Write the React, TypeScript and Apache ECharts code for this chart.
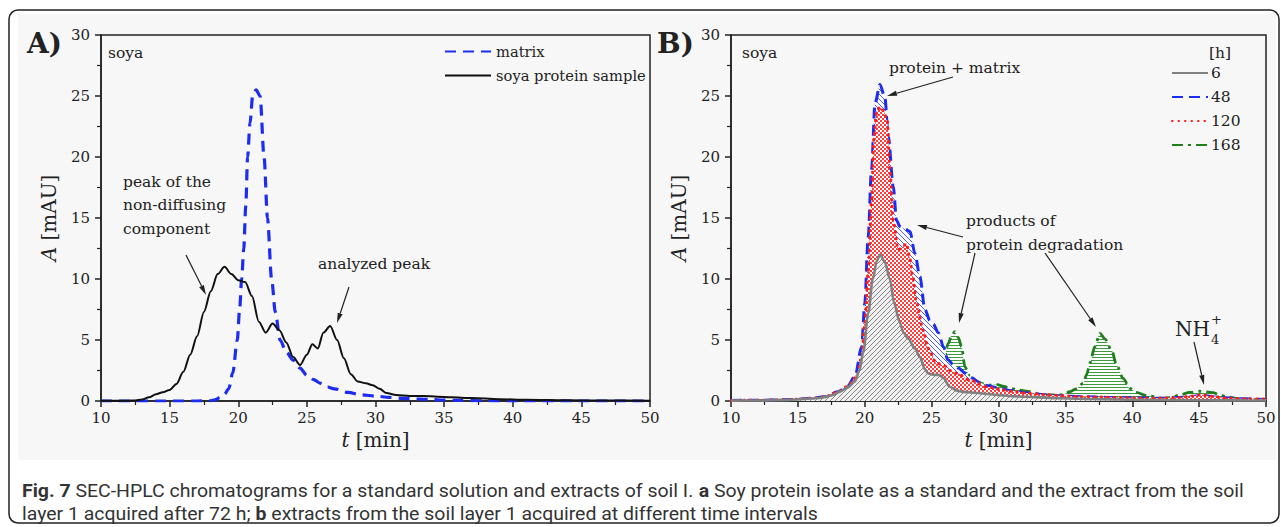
import React, { useEffect, useRef } from "react";
import * as echarts from "echarts";

const SERIF = "'DejaVu Serif', 'Liberation Serif', serif";
const SANS = "Roboto, 'Liberation Sans', sans-serif";
const INK = "#222";

// ---------- Panel A data ----------
const sampleT = [10,12,12.5,13,13.5,14,14.5,15,15.5,16,16.5,17,17.5,18,18.5,19,19.5,20,20.5,21,21.5,22,22.5,23,23.5,24,24.5,25,25.4,25.8,26.2,26.7,27.2,27.7,28.2,28.7,29.3,29.8,30.3,30.8,31.5,32.5,33.5,34.5,35.5,37,39,41,44,47,50];
const sampleA = [0.02,0.03,0.05,0.12,0.3,0.55,0.72,0.9,1.4,2.4,3.8,5.3,7.3,9.0,10.4,11.0,10.4,9.9,9.75,8.6,6.5,5.6,6.35,5.8,4.8,3.6,2.95,3.8,4.65,4.3,5.6,6.15,5.0,3.5,2.2,1.6,1.45,1.3,1.0,0.65,0.5,0.42,0.42,0.35,0.3,0.25,0.15,0.1,0.06,0.04,0.03];

const matrixT = [10,14,17,18,18.3,18.7,19,19.3,19.6,19.93,20.1,20.25,20.4,20.55,20.68,20.86,21.05,21.3,21.59,21.88,22.13,22.43,22.7,23.05,23.5,24,24.5,25,25.5,26,26.5,27,28,29,30,31,32,33,34,35,36,38,40,45,50];
const matrixA = [0,0,0,0.02,0.1,0.3,0.55,1.0,2.3,5.0,7.5,10,12.5,16,20,22.8,25.0,25.5,25.0,20,15,10,7.3,5.0,4.0,3.35,2.7,2.1,1.75,1.45,1.15,1.0,0.7,0.5,0.4,0.3,0.22,0.17,0.12,0.08,0.05,0.02,0.01,0,0];

// ---------- Panel B data ----------
const h6T = [10,12,14,15,16,16.65,17,17.5,18.15,18.7,19.27,19.6,19.89,20.26,20.6,20.9,21.14,21.5,21.88,22.2,22.6,22.9,23.25,23.75,24.12,24.5,24.75,25.2,25.6,25.85,26.37,26.9,27.36,28,29,29.86,31,32,33,34.8,36,38,40,42,45,48,50];
const h6A = [0.03,0.04,0.08,0.12,0.2,0.25,0.32,0.45,0.77,1.1,1.6,2.5,4.0,7.2,10.0,11.5,12.0,11.4,10.0,8.0,6.5,5.6,5.1,4.3,3.6,2.6,2.25,2.15,2.13,1.9,1.17,0.85,0.75,0.7,0.6,0.5,0.4,0.35,0.3,0.22,0.18,0.14,0.1,0.08,0.06,0.05,0.04];

const h48T = [10,12,14,15,16,17,18,18.7,19.27,19.77,20.0,20.26,20.5,20.77,21.14,21.5,21.76,22.13,22.38,22.63,23.0,23.38,23.75,24.12,24.5,24.87,25.12,25.5,25.9,26.2,26.6,27,27.5,28,28.6,29.2,30,31,32,33,34,35,36.5,38,40,42,44,45.2,46.5,48,50];
const h48A = [0.05,0.06,0.1,0.14,0.22,0.35,0.75,1.2,2.0,4.45,8.0,13.5,18.9,24.4,25.95,24.9,21.7,17.6,14.8,14.3,14.1,13.9,12.1,10.2,7.5,6.6,6.3,5.6,4.4,3.4,3.0,2.7,2.3,1.9,1.5,1.25,1.05,0.85,0.68,0.55,0.45,0.4,0.34,0.3,0.26,0.22,0.3,0.45,0.3,0.18,0.12];

const h120T = [10,12,14,15,16,17,18,18.7,19.4,19.77,20.0,20.26,20.5,20.69,20.9,21.14,21.4,21.68,21.88,22.13,22.5,22.8,23.13,23.35,23.6,23.88,24.37,24.75,25.37,25.87,26.4,26.87,27.86,29.1,30.35,31.3,32.35,33.5,34.84,36.08,37.5,39,40.5,42,43.5,44.5,45.2,46,47,48.5,50];
const h120A = [0.04,0.06,0.1,0.14,0.22,0.35,0.75,1.2,2.0,3.6,6.4,10.7,16.2,21.7,23.8,24.1,23.8,23.0,18.9,14.8,12.4,12.6,12.9,11.8,10.2,8.0,5.8,4.3,3.1,2.95,2.5,2.27,1.72,1.17,0.9,0.75,0.63,0.52,0.44,0.35,0.33,0.28,0.25,0.22,0.28,0.42,0.5,0.38,0.25,0.18,0.15];

const h168T = [10,12,14,16,17,18,19,20,21,22,23,24,25,25.6,25.9,26.24,26.5,26.74,27.0,27.24,27.49,27.86,28.3,28.9,29.4,29.9,30.4,30.85,31.5,32.35,33.0,33.6,34.3,34.84,35.34,35.8,36.33,36.6,36.83,37.2,37.58,37.95,38.45,38.83,39.32,39.82,40.3,41.07,42.3,43.0,43.56,44.3,45.05,45.6,46.05,46.5,47.05,48.04,49,50];
const h168A = [0.05,0.05,0.08,0.15,0.3,0.6,1.0,2.5,4.0,4.0,3.5,2.5,2.0,2.5,3.3,4.7,5.4,5.68,5.2,4.45,2.8,2.0,1.6,1.4,1.3,1.35,1.2,1.04,0.9,0.77,0.6,0.5,0.5,0.52,0.77,1.0,1.45,2.2,3.1,4.45,5.55,5.1,4.2,2.95,1.85,1.04,0.7,0.44,0.22,0.3,0.5,0.7,0.8,0.75,0.68,0.5,0.35,0.18,0.12,0.1];

const legendA = ["matrix", "soya protein sample"];
const legendB = ["6", "48", "120", "168"];

const captionLine1 = "{b|Fig. 7} SEC-HPLC chromatograms for a standard solution and extracts of soil I. {b|a} Soy protein isolate as a standard and the extract from the soil";
const captionLine2 = "layer 1 acquired after 72 h; {b|b} extracts from the soil layer 1 acquired at different time intervals";

function pairs(t: number[], a: number[]) {
  return t.map((x, i) => [x, a[i]]);
}

function makePattern(w: number, h: number, bg: string, fg: string, test: (x: number, y: number) => boolean) {
  const c = document.createElement("canvas");
  c.width = w;
  c.height = h;
  const ctx = c.getContext("2d")!;
  ctx.fillStyle = bg;
  ctx.fillRect(0, 0, w, h);
  ctx.fillStyle = fg;
  for (let y = 0; y < h; y++) for (let x = 0; x < w; x++) if (test(x, y)) ctx.fillRect(x, y, 1, 1);
  return { image: c.toDataURL(), repeat: "repeat", imageWidth: w, imageHeight: h } as any;
}

function arrow(x1: number, y1: number, x2: number, y2: number) {
  const ang = Math.atan2(y2 - y1, x2 - x1);
  const L = 10, Wd = 2.6;
  const bx = x2 - L * Math.cos(ang), by = y2 - L * Math.sin(ang);
  const px = -Math.sin(ang) * Wd, py = Math.cos(ang) * Wd;
  return [
    { type: "line", z: 100, silent: true, shape: { x1, y1, x2: bx, y2: by }, style: { stroke: INK, lineWidth: 1.2 } },
    { type: "polygon", z: 100, silent: true, shape: { points: [[x2, y2], [bx + px, by + py], [bx - px, by - py]] }, style: { fill: INK } },
  ];
}

function txt(x: number, y: number, text: string, size = 15.5, extra: any = {}) {
  return {
    type: "text", z: 100, silent: true, x, y,
    style: {
      text, fill: INK, font: `${extra.weight || "normal"} ${size}px ${SERIF}`,
      textVerticalAlign: "middle", textAlign: extra.align || "left",
      ...(extra.lineHeight ? { lineHeight: extra.lineHeight } : {}),
    },
  };
}

function axisPair(grid: number) {
  const common = {
    gridIndex: grid,
    type: "value",
    axisLine: { show: true, onZero: false, lineStyle: { color: INK, width: 1.5 } },
    axisTick: { show: true, inside: false, length: 6, lineStyle: { color: INK, width: 1.5 } },
    minorTick: { show: true, splitNumber: 2, length: 4, lineStyle: { color: INK, width: 1.2 } },
    splitLine: { show: false },
    minorSplitLine: { show: false },
    axisLabel: { color: INK, fontFamily: SERIF, fontSize: 15 },
  };
  const x = {
    ...common, min: 10, max: 50, interval: 5,
    axisLabel: { ...common.axisLabel, margin: 9 },
    name: "{i|t} [min]", nameLocation: "middle", nameGap: 28,
    nameTextStyle: { color: INK, fontFamily: SERIF, fontSize: 20, rich: { i: { fontStyle: "italic", fontFamily: SERIF, fontSize: 20, color: INK } } },
  };
  const y = {
    ...common, min: 0, max: 30, interval: 5,
    axisLabel: { ...common.axisLabel, margin: 11 },
    name: "{i|A} [mAU]", nameLocation: "middle", nameGap: 42,
    nameTextStyle: { color: INK, fontFamily: SERIF, fontSize: 20, rich: { i: { fontStyle: "italic", fontFamily: SERIF, fontSize: 20, color: INK } } },
  };
  return { x, y };
}

export default function App() {
  const ref = useRef<HTMLDivElement>(null);
  useEffect(() => {
    document.body.style.margin = "0";
    const chart = echarts.init(ref.current!, null, { renderer: "svg" });

    const grayPat = makePattern(5, 5, "#f0f0f0", "#858585", (x, y) => (x + y) % 5 === 0);
    const bluePat = makePattern(5, 5, "#ffffff", "#4a5cff", (x, y) => (x - y + 10) % 5 === 0);
    const redPat = makePattern(4, 4, "#ffffff", "#ff3b3b", (x, y) => (Math.floor(x / 2) + Math.floor(y / 2)) % 2 === 0);
    const greenPat = makePattern(4, 3, "#ffffff", "#3d9a3d", (_x, y) => y === 0);

    const A = axisPair(0);
    const B = axisPair(1);

    const captionStyle = (text: string) => ({
      text, fill: "#333", font: `19px ${SANS}`, textVerticalAlign: "middle",
      rich: { b: { fontWeight: "bold", fontFamily: SANS, fontSize: 19, fill: "#333" } },
    });

    const graphics: any[] = [
      { type: "rect", z: -10, silent: true, shape: { x: 18, y: 14, width: 1258, height: 446 }, style: { fill: "#f7f7f7" } },
      { type: "rect", z: 100, silent: true, shape: { x: 9, y: 10, width: 1270, height: 513, r: 9 }, style: { fill: "none", stroke: INK, lineWidth: 1.5 } },
      txt(27, 43, "A)", 28, { weight: "bold" }),
      txt(657, 43, "B)", 28, { weight: "bold" }),
      txt(108, 53, "soya"),
      txt(742, 53, "soya"),
      txt(123, 182, "peak of the"),
      txt(123, 205, "non-diffusing"),
      txt(123, 229, "component"),
      txt(318, 264, "analyzed peak"),
      txt(889, 68, "protein + matrix"),
      txt(966, 221, "products of"),
      txt(966, 245, "protein degradation"),
      txt(1175, 329, "NH", 20),
      txt(1211, 329, "+\n4", 13, { lineHeight: 20 }),
      txt(1209, 53, "[h]"),
      ...arrow(186, 255, 206, 295),
      ...arrow(349, 287, 337, 323),
      ...arrow(953, 77, 887, 96),
      ...arrow(963, 237, 917, 225),
      ...arrow(975, 253, 959, 323),
      ...arrow(1045, 253, 1096, 327),
      ...arrow(1194, 342, 1204, 385),
      { type: "text", z: 100, silent: true, x: 22, y: 491, scaleX: 1.025, style: captionStyle(captionLine1) },
      { type: "text", z: 100, silent: true, x: 22, y: 514, scaleX: 1.025, style: captionStyle(captionLine2) },
    ];

    const line = (name: string, xi: number, t: number[], a: number[], color: string, width: number, type: any, z: number, area?: any, cap = "butt") => ({
      name, type: "line", xAxisIndex: xi, yAxisIndex: xi, data: pairs(t, a),
      symbol: "none", showSymbol: false, smooth: 0.3, smoothMonotone: "x",
      lineStyle: { color, width, type, cap },
      itemStyle: { color },
      areaStyle: area ? { color: area, opacity: 1 } : undefined,
      z,
    });

    chart.setOption({
      animation: false,
      backgroundColor: "#ffffff",
      grid: [
        { left: 101, top: 35, width: 549, height: 366, show: true, borderColor: INK, borderWidth: 1.5, backgroundColor: "transparent" },
        { left: 731, top: 35, width: 535, height: 366, show: true, borderColor: INK, borderWidth: 1.5, backgroundColor: "transparent" },
      ],
      xAxis: [A.x, B.x],
      yAxis: [A.y, B.y],
      legend: [
        {
          data: legendA, orient: "vertical", left: 444, top: 44, padding: 0, itemGap: 9, itemWidth: 46, itemHeight: 14,
          selectedMode: false, itemStyle: { opacity: 0 }, textStyle: { color: INK, fontFamily: SERIF, fontSize: 14.7 },
        },
        {
          data: legendB, orient: "vertical", left: 1171, top: 65, padding: 0, itemGap: 8, itemWidth: 36, itemHeight: 14,
          selectedMode: false, itemStyle: { opacity: 0 }, textStyle: { color: INK, fontFamily: SERIF, fontSize: 15.5, padding: [0, 0, 0, -2] },
        },
      ],
      series: [
        line("matrix", 0, matrixT, matrixA, "#1c2cf0", 3.2, [11, 7], 3),
        line("soya protein sample", 0, sampleT, sampleA, "#111111", 2, "solid", 4),
        line("168", 1, h168T, h168A, "#1f7f1f", 2.8, [11, 5, 3, 5], 2, greenPat),
        line("48", 1, h48T, h48A, "#1c2cf0", 3, [11, 6], 3, bluePat),
        line("120", 1, h120T, h120A, "#ff1a1a", 3, [0.5, 6], 4, redPat, "round"),
        line("6", 1, h6T, h6A, "#808080", 2.6, "solid", 5, grayPat),
      ],
      graphic: graphics,
    });

    return () => chart.dispose();
  }, []);
  return <div ref={ref} style={{ width: 1281, height: 527 }} />;
}
